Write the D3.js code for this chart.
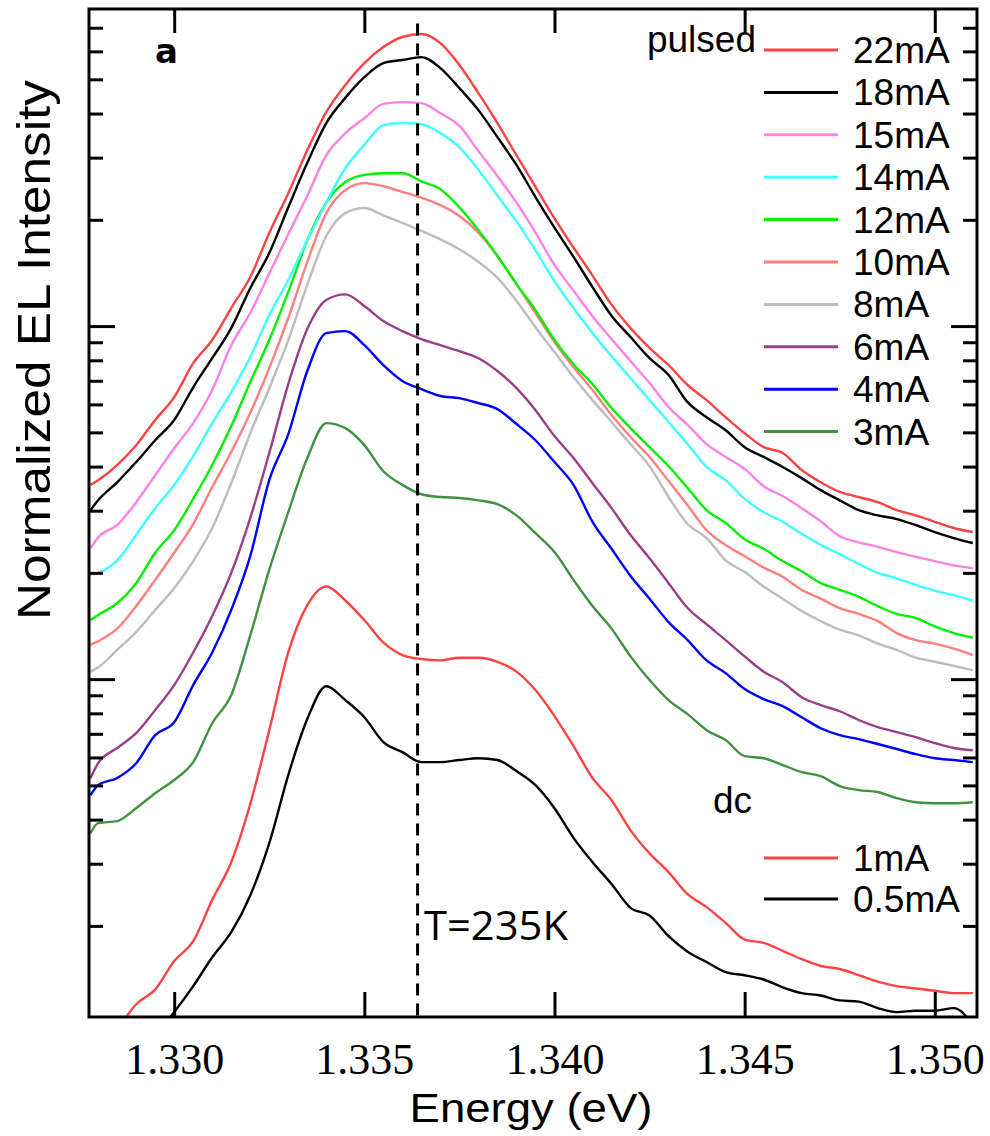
<!DOCTYPE html>
<html>
<head>
<meta charset="utf-8">
<script src="https://cdn.jsdelivr.net/npm/d3@7"></script>
<style>
  body { margin: 0; background: #fff; }
  text { font-family: "Liberation Sans", Arial, sans-serif; }
</style>
</head>
<body>
<div id="chart"></div>
<script>
// photon energy (eV) shared by every spectrum
const energy = [1.3278, 1.3280, 1.3285, 1.3290, 1.3295, 1.3300, 1.3305, 1.3310, 1.3315, 1.3320,
  1.3325, 1.3330, 1.3335, 1.3340, 1.3345, 1.3350, 1.3355, 1.3360, 1.3365, 1.3370,
  1.3375, 1.3380, 1.3385, 1.3390, 1.3395, 1.3400, 1.3405, 1.3410, 1.3415, 1.3420,
  1.3425, 1.3430, 1.3435, 1.3440, 1.3445, 1.3450, 1.3455, 1.3460, 1.3465, 1.3470,
  1.3475, 1.3480, 1.3485, 1.3490, 1.3495, 1.3500, 1.3505, 1.3510];

// pulsed
const i22 = [0.355, 0.366, 0.404, 0.460, 0.542, 0.629, 0.785, 0.913, 1.125, 1.377,
  1.835, 2.38, 3.15, 4.04, 4.82, 5.56, 6.17, 6.59, 6.72, 6.33,
  5.49, 4.57, 3.76, 3.05, 2.48, 2.02, 1.67, 1.39, 1.15, 0.987,
  0.867, 0.775, 0.681, 0.617, 0.552, 0.497, 0.454, 0.437, 0.391, 0.361,
  0.339, 0.328, 0.317, 0.301, 0.291, 0.279, 0.268, 0.261];
const i18 = [0.301, 0.321, 0.361, 0.412, 0.475, 0.542, 0.671, 0.811, 0.987, 1.28,
  1.61, 2.17, 2.90, 3.76, 4.43, 5.07, 5.56, 5.67, 5.78, 5.38,
  4.72, 4.09, 3.43, 2.86, 2.32, 1.90, 1.57, 1.29, 1.07, 0.931,
  0.811, 0.727, 0.609, 0.552, 0.507, 0.454, 0.426, 0.399, 0.371, 0.343,
  0.321, 0.301, 0.291, 0.284, 0.273, 0.261, 0.251, 0.243];
const i15 = [0.235, 0.252, 0.273, 0.317, 0.378, 0.451, 0.531, 0.659, 0.883, 1.089,
  1.41, 1.82, 2.34, 3.05, 3.52, 3.88, 4.26, 4.31, 4.28, 4.01,
  3.69, 3.13, 2.66, 2.24, 1.84, 1.49, 1.26, 1.067, 0.919, 0.796,
  0.690, 0.590, 0.525, 0.463, 0.426, 0.394, 0.352, 0.330, 0.305, 0.280,
  0.254, 0.244, 0.237, 0.229, 0.222, 0.216, 0.210, 0.206];
const i14 = [0.198, 0.200, 0.217, 0.256, 0.305, 0.355, 0.428, 0.531, 0.650, 0.817,
  1.074, 1.35, 1.75, 2.24, 2.80, 3.26, 3.71, 3.76, 3.73, 3.52,
  3.21, 2.77, 2.34, 1.98, 1.64, 1.34, 1.125, 0.955, 0.822, 0.712,
  0.617, 0.535, 0.463, 0.399, 0.366, 0.324, 0.297, 0.279, 0.258, 0.240,
  0.226, 0.212, 0.200, 0.193, 0.185, 0.178, 0.173, 0.167];
const i12 = [0.147, 0.152, 0.164, 0.187, 0.228, 0.264, 0.324, 0.404, 0.521, 0.694,
  0.913, 1.25, 1.75, 2.24, 2.56, 2.68, 2.71, 2.71, 2.57, 2.44,
  2.17, 1.87, 1.58, 1.315, 1.11, 0.913, 0.780, 0.685, 0.586, 0.514,
  0.454, 0.401, 0.348, 0.301, 0.277, 0.249, 0.234, 0.216, 0.202, 0.187,
  0.179, 0.171, 0.161, 0.153, 0.149, 0.141, 0.135, 0.131];
const i10 = [0.125, 0.128, 0.139, 0.161, 0.191, 0.228, 0.275, 0.350, 0.440, 0.567,
  0.760, 1.054, 1.52, 2.09, 2.43, 2.54, 2.49, 2.40, 2.31, 2.20,
  2.05, 1.84, 1.58, 1.315, 1.089, 0.901, 0.765, 0.659, 0.560, 0.485,
  0.426, 0.364, 0.311, 0.264, 0.240, 0.223, 0.207, 0.195, 0.179, 0.169,
  0.159, 0.153, 0.146, 0.135, 0.129, 0.126, 0.122, 0.117];
const i8 = [0.105, 0.108, 0.121, 0.136, 0.157, 0.181, 0.216, 0.268, 0.359, 0.497,
  0.667, 0.913, 1.31, 1.80, 2.09, 2.16, 2.06, 1.96, 1.86, 1.76,
  1.65, 1.52, 1.37, 1.18, 0.993, 0.844, 0.717, 0.617, 0.535, 0.463,
  0.401, 0.328, 0.275, 0.251, 0.217, 0.201, 0.183, 0.169, 0.156, 0.146,
  0.138, 0.133, 0.126, 0.121, 0.115, 0.112, 0.109, 0.106];
const i6 = [0.0525, 0.0578, 0.0638, 0.0703, 0.0817, 0.0962, 0.119, 0.151, 0.200, 0.286,
  0.437, 0.685, 0.981, 1.186, 1.23, 1.14, 1.033, 0.968, 0.919, 0.883,
  0.849, 0.811, 0.746, 0.667, 0.578, 0.488, 0.423, 0.359, 0.305, 0.256,
  0.220, 0.187, 0.159, 0.143, 0.129, 0.116, 0.105, 0.098, 0.0889, 0.0844,
  0.0811, 0.0766, 0.0731, 0.0708, 0.0685, 0.0659, 0.0638, 0.0629];
const i4 = [0.0469, 0.0501, 0.0525, 0.0578, 0.0694, 0.0755, 0.0962, 0.119, 0.157, 0.223,
  0.366, 0.494, 0.746, 0.955, 0.968, 0.883, 0.775, 0.699, 0.663, 0.634,
  0.625, 0.605, 0.582, 0.528, 0.475, 0.412, 0.355, 0.279, 0.234, 0.196,
  0.169, 0.145, 0.129, 0.113, 0.104, 0.0937, 0.0878, 0.0839, 0.0780, 0.0726,
  0.0694, 0.0676, 0.0655, 0.0634, 0.0613, 0.0597, 0.0590, 0.0582];
const i3 = [0.0366, 0.0391, 0.0396, 0.0431, 0.0475, 0.0518, 0.0582, 0.0750, 0.0901, 0.133,
  0.204, 0.297, 0.423, 0.531, 0.514, 0.460, 0.388, 0.355, 0.334, 0.328,
  0.326, 0.321, 0.313, 0.291, 0.259, 0.229, 0.191, 0.161, 0.139, 0.116,
  0.0994, 0.0872, 0.0796, 0.0717, 0.0672, 0.0605, 0.0597, 0.0571, 0.0545, 0.0531,
  0.0498, 0.0485, 0.0479, 0.0460, 0.0448, 0.0445, 0.0445, 0.0448];
// dc
const dc1 = [null, null, 0.0101, 0.0120, 0.0132, 0.0159, 0.0181, 0.0237, 0.0303, 0.0443,
  0.0717, 0.119, 0.162, 0.183, 0.167, 0.147, 0.127, 0.117, 0.114, 0.113,
  0.115, 0.115, 0.112, 0.105, 0.0931, 0.0786, 0.0646, 0.0525, 0.0454, 0.0373,
  0.0321, 0.0284, 0.0246, 0.0226, 0.0204, 0.0183, 0.0179, 0.0170, 0.0161, 0.0154,
  0.0151, 0.0145, 0.0139, 0.0135, 0.0133, 0.0131, 0.0129, 0.0129];
const dc05 = [null, null, null, null, 0.0098, 0.0114, 0.0135, 0.0163, 0.0192, 0.0244,
  0.0343, 0.0535, 0.0771, 0.0955, 0.0872, 0.0780, 0.0663, 0.0621, 0.0582, 0.0582,
  0.0590, 0.0597, 0.0590, 0.0549, 0.0501, 0.0431, 0.0355, 0.0303, 0.0263, 0.0225,
  0.0214, 0.0187, 0.0169, 0.0158, 0.0148, 0.0145, 0.0141, 0.0134, 0.0129, 0.0127,
  0.0123, 0.0122, 0.0117, 0.0114, 0.0115, 0.0115, 0.0117, 0.0105];

const pulsedLabels = ["22mA", "18mA", "15mA", "14mA", "12mA", "10mA", "8mA", "6mA", "4mA", "3mA"];
const pulsedSeries = [i22, i18, i15, i14, i12, i10, i8, i6, i4, i3];
const pulsedColors = ["#ff4343", "#000000", "#ff80e8", "#40ffff", "#00f000", "#ff7f7f", "#bcbcbc", "#993f8a", "#0000ff", "#409140"];
const dcLabels = ["1mA", "0.5mA"];
const dcSeries = [dc1, dc05];
const dcColors = ["#ff4343", "#000000"];

const xTicks = [1.330, 1.335, 1.340, 1.345, 1.350];
const markerEnergy = 1.3364;

const w = 990, h = 1136;
const pLeft = 89, pRight = 977, pTop = 9, pBottom = 1017;

const svg = d3.select("#chart").append("svg")
  .attr("width", w).attr("height", h);

const x = d3.scaleLinear().domain([1.32776, 1.35111]).range([pLeft, pRight]);
const y = d3.scaleLog().domain([0.01104, 7.91]).range([pBottom, pTop]);

svg.append("clipPath").attr("id", "plot")
  .append("rect").attr("x", pLeft).attr("y", pTop)
  .attr("width", pRight - pLeft).attr("height", pBottom - pTop);

const line = d3.line()
  .defined(d => d[1] != null)
  .curve(d3.curveMonotoneX)
  .x(d => x(d[0]))
  .y(d => y(d[1]));

const allSeries = pulsedSeries.map((s, i) => ({ values: s, color: pulsedColors[i] }))
  .concat(dcSeries.map((s, i) => ({ values: s, color: dcColors[i] })));

// draw bottom curves first so top ones sit on top
svg.append("g").attr("clip-path", "url(#plot)")
  .selectAll("path")
  .data(allSeries.slice().reverse())
  .join("path")
  .attr("fill", "none")
  .attr("stroke", d => d.color)
  .attr("stroke-width", 2.4)
  .attr("stroke-linejoin", "round")
  .attr("d", d => line(energy.map((e, i) => [e, d.values[i]])));

// vertical dashed marker
svg.append("line")
  .attr("x1", x(markerEnergy)).attr("x2", x(markerEnergy))
  .attr("y1", y(7.2)).attr("y2", pBottom)
  .attr("stroke", "#000").attr("stroke-width", 3)
  .attr("stroke-dasharray", "12,8");

// axes (ticks pointing inward)
const yTicks = y.ticks();
const isMajor = v => Math.abs(Math.log10(v) - Math.round(Math.log10(v))) < 1e-6;

const leftAxis = svg.append("g").attr("transform", `translate(${pLeft},0)`)
  .call(d3.axisLeft(y).tickValues(yTicks).tickSize(-14).tickFormat(""));
const rightAxis = svg.append("g").attr("transform", `translate(${pRight},0)`)
  .call(d3.axisRight(y).tickValues(yTicks).tickSize(-14).tickFormat(""));
leftAxis.selectAll(".tick line").filter(d => isMajor(d)).attr("x2", 26);
rightAxis.selectAll(".tick line").filter(d => isMajor(d)).attr("x2", -26);

const topAxis = svg.append("g").attr("transform", `translate(0,${pTop})`)
  .call(d3.axisTop(x).tickValues(xTicks).tickSize(-24).tickFormat(""));
const bottomAxis = svg.append("g").attr("transform", `translate(0,${pBottom})`)
  .call(d3.axisBottom(x).tickValues(xTicks).tickSize(-25).tickPadding(26).tickFormat(d3.format(".3f")));

[leftAxis, rightAxis, topAxis, bottomAxis].forEach(g => {
  g.select(".domain").remove();
  g.selectAll(".tick line").attr("stroke", "#000").attr("stroke-width", 3);
});
bottomAxis.selectAll("text")
  .attr("fill", "#000")
  .style("font-family", "'Liberation Serif', 'Times New Roman', serif")
  .style("font-size", "44px");

// frame
svg.append("rect")
  .attr("x", pLeft).attr("y", pTop)
  .attr("width", pRight - pLeft).attr("height", pBottom - pTop)
  .attr("fill", "none").attr("stroke", "#000").attr("stroke-width", 3);

// axis titles
svg.append("text")
  .attr("x", 531).attr("y", 1122)
  .attr("text-anchor", "middle")
  .attr("textLength", 243).attr("lengthAdjust", "spacingAndGlyphs")
  .style("font-size", "40px")
  .text("Energy (eV)");

svg.append("text")
  .attr("transform", "translate(50,350) rotate(-90)")
  .attr("text-anchor", "middle")
  .attr("textLength", 540).attr("lengthAdjust", "spacingAndGlyphs")
  .style("font-size", "46px")
  .text("Normalized EL Intensity");

// annotations
svg.append("text").attr("x", 155).attr("y", 63)
  .style("font-family", "'DejaVu Sans', sans-serif")
  .style("font-size", "34px").style("font-weight", "bold").text("a");
svg.append("text").attr("x", 756).attr("y", 52).attr("text-anchor", "end")
  .style("font-size", "37px").text("pulsed");
svg.append("text").attr("x", 713).attr("y", 813)
  .style("font-size", "37px").text("dc");
svg.append("text").attr("x", 424).attr("y", 940)
  .attr("textLength", 144).attr("lengthAdjust", "spacingAndGlyphs")
  .style("font-family", "'Open Sans', sans-serif")
  .style("font-size", "40px").text("T=235K");

// legends
function legend(labels, colors, y0, step) {
  const g = svg.append("g");
  const row = g.selectAll("g").data(labels).join("g")
    .attr("transform", (d, i) => `translate(0,${y0 + i * step})`);
  row.append("line")
    .attr("x1", 764).attr("x2", 838)
    .attr("stroke", (d, i) => colors[i]).attr("stroke-width", 3);
  row.append("text")
    .attr("x", 853).attr("y", 13)
    .style("font-size", "37px")
    .text(d => d);
}
legend(pulsedLabels, pulsedColors, 50, 42.4);
legend(dcLabels, dcColors, 858, 41);
</script>
</body>
</html>
